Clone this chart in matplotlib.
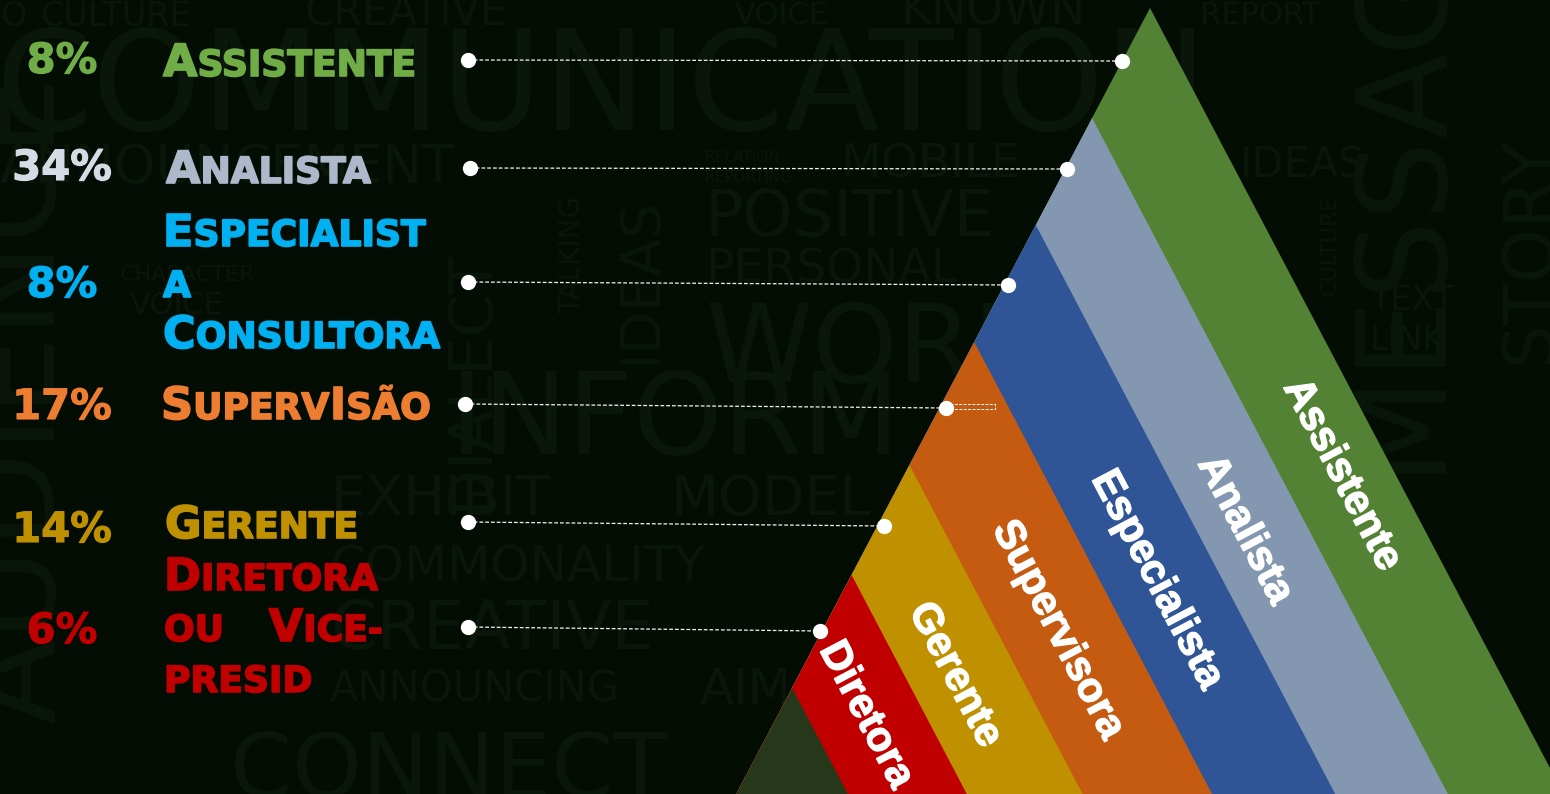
import matplotlib
matplotlib.use("Agg")
import matplotlib.pyplot as plt
from matplotlib.patches import Polygon, Rectangle
import matplotlib.patheffects as pe

# ---------------- data ----------------
categories = ["Assistente", "Analista", "Especialista", "Supervisora", "Gerente", "Diretora"]
percentages = [8, 34, 8, 17, 14, 6]
legend_lines = [["Assistente"], ["Analista"], ["Especialist", "a", "Consultora"],
                ["SupervIsão"], ["Gerente"], ["Diretora", "ou Vice-", "presid"]]
bg_words = ["O", "CULTURE", "CREATIVE", "VOICE", "KNOWN", "REPORT", "COMMUNICATION",
            "ANNOUNCEMENT", "RELATION", "REPORTING", "MOBILE", "IDEAS", "POSITIVE", "PERSONAL",
            "CHARACTER", "VOICE", "WORD", "INFORM", "EXHIBIT", "MODEL", "COMMONALITY",
            "CREATIVE", "ANNOUNCING", "AIM", "TEXT", "LINK", "CONNECT"]
bg_vwords = ["DIALECT", "TALKING", "IDEAS", "MESSAGE", "CULTURE", "AUDIENCE", "STORY"]

# ---------------- styles / layout ----------------
BG = "#040d04"
WORD_C = "#0a160a"
pct_colors = ["#70ad47", "#d6dce5", "#00b0f0", "#ed7d31", "#bf9000", "#c00000"]
lab_colors = ["#70ad47", "#adb9ca", "#00b0f0", "#ed7d31", "#bf9000", "#c00000"]
tri_colors = ["#548235", "#8497b0", "#2f5597", "#c55a11", "#bf9000", "#c00000", "#27381a"]
apex_y = [8, 118, 225, 342, 465, 575, 688]
APEX_X0, APEX_Y0, SLOPE = 1150, 8, 1.9

pct_x = 62
pct_base = [73, 180, 297, 419, 542, 643]
lab_x = [163, 166, 163, 161, 165, 164]
lab_base = [76, 183, 246, 419, 538, 590]
LINE_H = 51
JUSTIFY_R = 383
left_dots = [(468, 60), (470, 168), (468, 282), (465, 404), (468, 522), (468, 627)]
right_dots = [(1122, 61), (1067, 169), (1008, 285), (946, 408), (884, 526), (820, 631)]
tri_label_pos = [(1342, 475), (1245, 530), (1157, 580), (1058, 630), (955, 675), (866, 715)]

W, H = 1550, 794
fig = plt.figure(figsize=(15.5, 7.94), dpi=100)
fig.patch.set_facecolor(BG)
ax = fig.add_axes([0, 0, 1, 1])
ax.set_xlim(0, W)
ax.set_ylim(H, 0)
ax.axis("off")
ax.set_facecolor(BG)
renderer = fig.canvas.get_renderer()

# ---------------- background word cloud ----------------
hw = [(0, 16, 24), (40, 16, 24), (305, 14, 30), (735, 16, 22), (900, 12, 34), (1200, 16, 22),
      (-5, 92, 100), (0, 168, 38), (705, 157, 11), (705, 178, 11), (840, 165, 34),
      (1240, 165, 30), (705, 218, 46), (705, 270, 34), (120, 275, 16), (130, 305, 22),
      (705, 352, 78), (450, 422, 82), (330, 500, 40), (670, 500, 40), (330, 568, 36),
      (330, 630, 48), (330, 690, 30), (700, 690, 36), (1370, 300, 24), (1370, 340, 24),
      (230, 772, 64)]
for w, (x, y, s) in zip(bg_words, hw):
    ax.text(x, y, w, color=WORD_C, fontsize=s, family="DejaVu Sans",
            ha="left", va="center", zorder=0)
vw = [(470, 380, 44), (572, 255, 20), (640, 280, 40), (1400, 170, 90), (1330, 245, 16),
      (20, 400, 90), (1530, 250, 50)]
for w, (x, y, s) in zip(bg_vwords, vw):
    ax.text(x, y, w, color=WORD_C, fontsize=s, family="DejaVu Sans",
            ha="center", va="center", rotation=90, zorder=0)

# ---------------- pyramid ----------------
BOTTOM = 1000
for c, ay in zip(tri_colors, apex_y):
    axx = APEX_X0 - (ay - APEX_Y0) / SLOPE
    half = (BOTTOM - ay) / SLOPE
    ax.add_patch(Polygon([(axx, ay), (axx - half, BOTTOM), (axx + half, BOTTOM)],
                         closed=True, facecolor=c, edgecolor="none", zorder=2))

for name, (x, y) in zip(categories, tri_label_pos):
    ax.text(x, y, name, color="white", fontsize=30, family="Liberation Sans", weight="bold",
            rotation=-62.2, rotation_mode="anchor", ha="center", va="center", zorder=3,
            path_effects=[pe.withStroke(linewidth=1.0, foreground="white")])

# ---------------- connectors ----------------
for (x0, y0), (x1, y1) in zip(left_dots, right_dots):
    ax.plot([x0, x1], [y0, y1], color="#f2f2f2", lw=0.9, ls=(0, (3, 1.6)), zorder=4)
    ax.plot([x0, x1], [y0, y1], ls="none", marker="o", ms=11, color="white",
            markeredgewidth=0, zorder=5)
ax.add_patch(Rectangle((950, 404), 45, 5, fill=False, edgecolor="white", lw=0.7,
                       ls=(0, (3, 1.5)), zorder=4))

# ---------------- left legend ----------------
BIG, SMALL = 32, 26
FONT = "DejaVu Sans"
STROKE = 1.2


def runs(s):
    out = []
    for ch in s:
        big = ch.isupper()
        if out and out[-1][1] == big:
            out[-1][0] += ch.upper()
        else:
            out.append([ch.upper(), big])
    return out


def width_of(s, size):
    t = ax.text(0, 0, s, fontsize=size, family=FONT, weight="bold")
    w = t.get_window_extent(renderer).width
    t.remove()
    return w


def draw_sc(x, y, s, color, align="left"):
    rs = runs(s)
    if align == "right":
        total = sum(width_of(t, BIG if b else SMALL) for t, b in rs)
        x = x - total
    for t, b in rs:
        size = BIG if b else SMALL
        ax.text(x, y, t, fontsize=size, family=FONT, weight="bold", color=color,
                ha="left", va="baseline", zorder=6,
                path_effects=[pe.withStroke(linewidth=STROKE, foreground=color)])
        x += width_of(t, size)


for i, pct in enumerate(percentages):
    ax.text(pct_x, pct_base[i], f"{pct}%", color=pct_colors[i], fontsize=30,
            family="DejaVu Sans", weight="bold", ha="center", va="baseline", zorder=6,
            path_effects=[pe.withStroke(linewidth=0.8, foreground=pct_colors[i])])
    lines = legend_lines[i]
    for j, line in enumerate(lines):
        y = lab_base[i] + j * LINE_H
        words = line.split(" ")
        if len(words) > 1 and j < len(lines) - 1:
            draw_sc(lab_x[i], y, words[0], lab_colors[i])
            draw_sc(JUSTIFY_R, y, words[-1], lab_colors[i], align="right")
        else:
            draw_sc(lab_x[i], y, line, lab_colors[i])

fig.savefig("out.png", dpi=100, facecolor=BG)
